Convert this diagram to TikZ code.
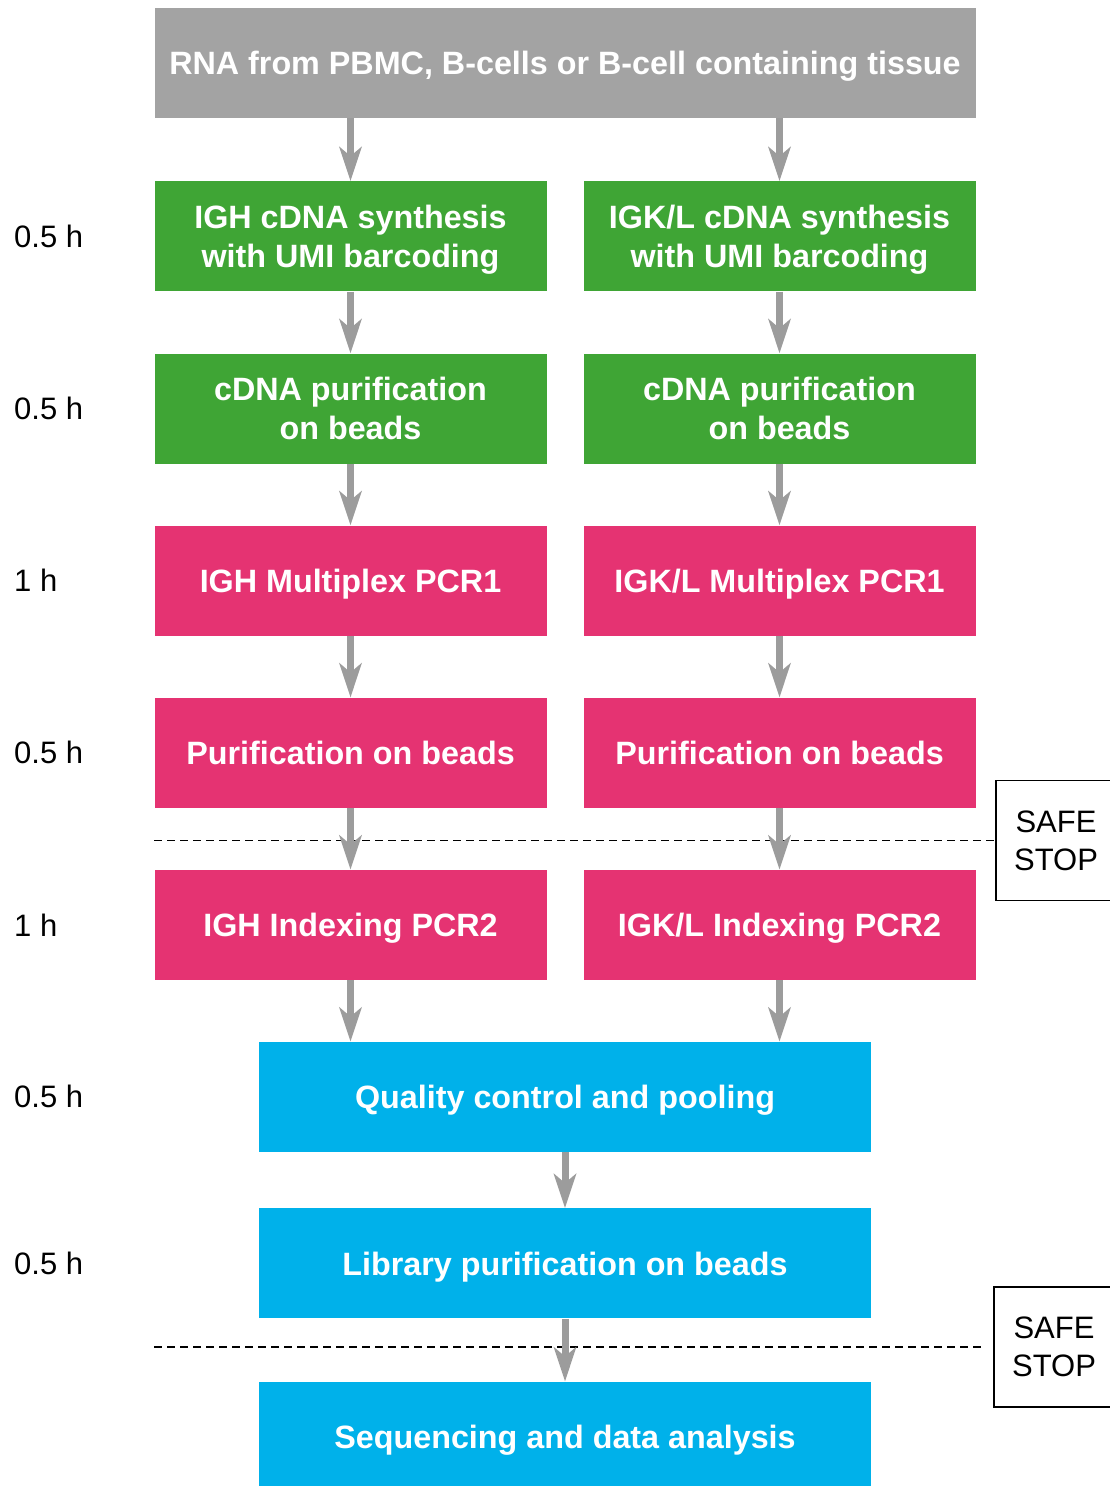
\documentclass[tikz,border=0pt]{standalone}
\usepackage{fontspec}
\setmainfont{Liberation Sans}
\usetikzlibrary{positioning, arrows.meta}
\definecolor{RnaGray}{HTML}{A3A3A3}
\definecolor{StepGreen}{HTML}{3FA535}
\definecolor{StepPink}{HTML}{E53372}
\definecolor{StepBlue}{HTML}{00B1EA}
\definecolor{ArrowGray}{HTML}{9C9C9C}

\begin{document}
\begin{tikzpicture}[
  x=1pt, y=1pt,
  every node/.style={align=center, inner sep=0pt},
  node distance=61.7pt,
  stepbox/.style={fill=#1, text=white, minimum height=110pt, text depth=0pt,
    font=\fontsize{32.3}{39}\selectfont\bfseries},
  colbox/.style={stepbox=#1, minimum width=392pt},
  widebox/.style={stepbox=StepBlue, minimum width=612pt},
  timelabel/.style={anchor=west, font=\fontsize{31}{37}\selectfont},
  safestop/.style={draw, line width=1.2pt, minimum width=120pt, minimum height=120pt,
    font=\fontsize{31}{38}\selectfont},
  stopline/.style={dashed, line width=1.1pt, dash pattern=on 7.5pt off 5.5pt},
  flow/.style={draw=ArrowGray, line width=7pt,
    -{Stealth[length=34pt, width=22pt, inset=9pt, fill=ArrowGray]}}
]
\useasboundingbox (0,0) rectangle (1110,-1486);

% Starting material
\node[stepbox=RnaGray, minimum width=821pt] (rna) at (565,-63)
  {RNA from PBMC, B-cells or B-cell containing tissue};

% IGH column
\node[colbox=StepGreen, below=63pt of rna.south west, anchor=north west] (ighcdna)
  {IGH cDNA synthesis\\with UMI barcoding};
\node[colbox=StepGreen, below=of ighcdna] (ighpur) {cDNA purification\\on beads};
\node[colbox=StepPink, below=of ighpur] (ighpcr) {IGH Multiplex PCR1};
\node[colbox=StepPink, below=of ighpcr] (ighbeads) {Purification on beads};
\node[colbox=StepPink, below=of ighbeads] (ighidx) {IGH Indexing PCR2};

% IGK/L column
\node[colbox=StepGreen, below=63pt of rna.south east, anchor=north east] (igkcdna)
  {IGK/L cDNA synthesis\\with UMI barcoding};
\node[colbox=StepGreen, below=of igkcdna] (igkpur) {cDNA purification\\on beads};
\node[colbox=StepPink, below=of igkpur] (igkpcr) {IGK/L Multiplex PCR1};
\node[colbox=StepPink, below=of igkpcr] (igkbeads) {Purification on beads};
\node[colbox=StepPink, below=of igkbeads] (igkidx) {IGK/L Indexing PCR2};

% Pooled steps
\coordinate (pool) at (ighidx.south -| rna.south);
\node[widebox, below=of pool] (qc) {Quality control and pooling};
\node[widebox, below=56pt of qc] (lib) {Library purification on beads};
\node[widebox, below=63pt of lib] (seq) {Sequencing and data analysis};

% Safe stops
\node[safestop] (stopa) at (1056,-840.5) {SAFE\\STOP};
\node[safestop] (stopb) at (1054,-1347) {SAFE\\STOP};
\draw[stopline] (stopa.west -| ighbeads.west) -- (stopa.west);
\draw[stopline] (stopb.west -| ighbeads.west) -- ([xshift=-8pt]stopb.west);

% Hands-on times
\coordinate (margin) at (14,0);
\node[timelabel] (tcdna) at (margin |- ighcdna) {0.5 h};
\node[timelabel] (tpur) at (margin |- ighpur) {0.5 h};
\node[timelabel] (tpcr) at (margin |- ighpcr) {1 h};
\node[timelabel] (tbeads) at (margin |- ighbeads) {0.5 h};
\node[timelabel] (tidx) at (margin |- ighidx) {1 h};
\node[timelabel] (tqc) at (margin |- qc) {0.5 h};
\node[timelabel] (tlib) at (margin |- lib) {0.5 h};

% Arrows
\draw[flow] (rna.south -| ighcdna.north) -- (ighcdna.north);
\draw[flow] (rna.south -| igkcdna.north) -- (igkcdna.north);
\draw[flow] (ighcdna) -- (ighpur);
\draw[flow] (ighpur) -- (ighpcr);
\draw[flow] (ighpcr) -- (ighbeads);
\draw[flow] (ighbeads) -- (ighidx);
\draw[flow] (igkcdna) -- (igkpur);
\draw[flow] (igkpur) -- (igkpcr);
\draw[flow] (igkpcr) -- (igkbeads);
\draw[flow] (igkbeads) -- (igkidx);
\draw[flow] (ighidx.south) -- (ighidx.south |- qc.north);
\draw[flow] (igkidx.south) -- (igkidx.south |- qc.north);
\draw[flow] (qc) -- (lib);
\draw[flow] (lib) -- (seq);

\end{tikzpicture}
\end{document}
